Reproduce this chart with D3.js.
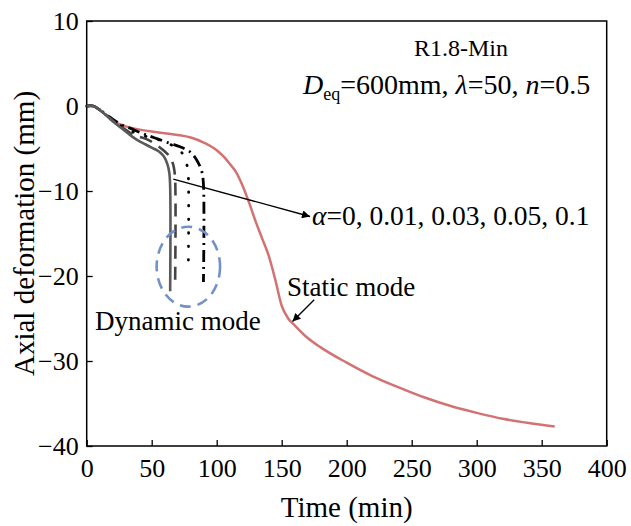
<!DOCTYPE html>
<html><head><meta charset="utf-8">
<script src="https://cdn.jsdelivr.net/npm/d3@7"></script>
<style>
html,body{margin:0;padding:0;background:#fff;}
text{font-family:"Liberation Serif","Times New Roman",serif;fill:#000;}
</style></head>
<body><svg id="c" width="631" height="526"></svg>
<script>
// ---- data ----
const xTicks = [0, 50, 100, 150, 200, 250, 300, 350, 400];
const yTicks = [10, 0, -10, -20, -30, -40];

const staticT = [0, 5, 10, 15, 20, 30, 40, 50, 60, 70, 80, 90, 100, 105, 110, 115, 120, 125, 130, 135, 140, 145, 150, 155, 160, 170, 180, 200, 220, 240, 260, 280, 300, 320, 340, 360];
const staticV = [0, 0, -0.5, -1.1, -1.7, -2.4, -2.75, -3.0, -3.2, -3.4, -3.7, -4.3, -5.2, -5.9, -6.8, -7.8, -9.4, -11.4, -13.6, -15.6, -17.6, -20.4, -23.5, -25.0, -25.8, -27.3, -28.4, -30.2, -31.8, -33.1, -34.3, -35.3, -36.1, -36.8, -37.3, -37.7];

const a0T = [0, 5, 10, 15, 20, 25, 30, 35, 40, 45, 50, 55, 58, 60, 62, 63.5, 64.2, 64.2];
const a0V = [0, 0, -0.45, -1.1, -1.8, -2.4, -3.0, -3.6, -4.1, -4.5, -4.9, -5.3, -5.7, -6.1, -6.8, -7.8, -9.5, -21.8];

const a1T = [0, 5, 10, 15, 20, 25, 30, 35, 40, 46, 52, 59, 63, 65.4, 67, 68, 68];
const a1V = [0, 0, -0.45, -1.05, -1.7, -2.3, -2.8, -3.3, -3.6, -3.9, -4.4, -5.2, -5.8, -6.4, -7.2, -8.5, -21.1];

const a3T = [0, 5, 10, 15, 20, 25, 30, 35, 40, 46, 56, 64, 71.8, 75.6, 77.5, 78.2, 78.2];
const a3V = [0, 0, -0.45, -1.0, -1.6, -2.2, -2.6, -3.0, -3.3, -3.6, -4.0, -4.5, -5.2, -6.3, -7.2, -8.3, -18.5];

const a5T = [0, 5, 10, 15, 20, 25, 30, 33.3, 40, 46, 55, 64, 71.8, 79.5, 84.6, 88.5, 89.8, 89.8];
const a5V = [0, 0, -0.45, -1.0, -1.55, -2.05, -2.45, -2.6, -3.05, -3.4, -3.9, -4.4, -4.8, -5.4, -6.35, -7.7, -9.2, -20.7];

// ---- layout ----
const svg = d3.select("#c");
const x = d3.scaleLinear().domain([0, 400]).range([86.7, 606.7]);
const y = d3.scaleLinear().domain([-40, 10]).range([446, 21]);
const FS_TICK = 26;

const defs = svg.append("defs");
defs.append("marker").attr("id","ah").attr("viewBox","0 0 10 10")
  .attr("refX",10).attr("refY",5).attr("markerWidth",12).attr("markerHeight",8)
  .attr("markerUnits","userSpaceOnUse").attr("orient","auto")
  .append("path").attr("d","M0,0 L10,5 L0,10 z").attr("fill","#000");

// frame
svg.append("rect").attr("x", x(0)).attr("y", y(10))
  .attr("width", x(400) - x(0)).attr("height", y(-40) - y(10))
  .attr("fill", "none").attr("stroke", "#000").attr("stroke-width", 1.5);

// axes (ticks inward)
const xAxis = svg.append("g").attr("transform", `translate(0,${y(-40)})`)
  .call(d3.axisBottom(x).tickValues(xTicks).tickSizeInner(-6).tickSizeOuter(0).tickPadding(13));
const yAxis = svg.append("g").attr("transform", `translate(${x(0)},0)`)
  .call(d3.axisLeft(y).tickValues(yTicks).tickSizeInner(-6).tickSizeOuter(0).tickPadding(8));
[xAxis, yAxis].forEach(g => {
  g.select(".domain").remove();
  g.selectAll(".tick line").attr("stroke", "#000").attr("stroke-width", 1.3);
  g.selectAll(".tick text").attr("font-size", FS_TICK).attr("fill", "#000")
    .attr("font-family", '"Liberation Serif","Times New Roman",serif');
});

// axis titles
svg.append("text").attr("x", (x(0) + x(400)) / 2).attr("y", 517)
  .attr("text-anchor", "middle").attr("font-size", 29).text("Time (min)");
svg.append("text").attr("transform", `translate(34,${(y(10) + y(-40)) / 2}) rotate(-90)`)
  .attr("text-anchor", "middle").attr("font-size", 29).text("Axial deformation (mm)");

// lines
const line = d3.line().x(d => x(d[0])).y(d => y(d[1])).curve(d3.curveMonotoneX);
function pts(T, V) { return T.map((t, i) => [t, V[i]]); }

const series = [
  { T: staticT, V: staticV, color: "#d27272", w: 2.5, dash: null, cap: "butt", mono: true },
  { T: a5T, V: a5V, color: "#000", w: 2.8, dash: "12,5,2,5", cap: "butt" },
  { T: a3T, V: a3V, color: "#000", w: 2.8, dash: "0.5,13", cap: "round" },
  { T: a1T, V: a1V, color: "#444", w: 2.6, dash: "13,8", cap: "butt" },
  { T: a0T, V: a0V, color: "#5a5a5a", w: 2.6, dash: null, cap: "butt" }
];
series.forEach(s => {
  svg.append("path").attr("d", (s.mono ? line : d3.line().x(d => x(d[0])).y(d => y(d[1])).curve(d3.curveCatmullRom.alpha(0.5)))(pts(s.T, s.V)))
    .attr("fill", "none").attr("stroke", s.color).attr("stroke-width", s.w)
    .attr("stroke-dasharray", s.dash).attr("stroke-linecap", s.cap).attr("stroke-linejoin", "round");
});

// ellipse (dynamic mode highlight)
svg.append("ellipse").attr("cx", x(78.2)).attr("cy", y(-18.9))
  .attr("rx", x(24.4) - x(0)).attr("ry", y(-4.7) - y(0))
  .attr("fill", "none").attr("stroke", "#7291c9").attr("stroke-width", 2.6)
  .attr("stroke-dasharray", "11,7");

// annotation arrows
svg.append("line").attr("x1", x(66.6)).attr("y1", y(-8.6)).attr("x2", x(171.8)).attr("y2", y(-13.0))
  .attr("stroke", "#000").attr("stroke-width", 1.3).attr("marker-end", "url(#ah)");
svg.append("line").attr("x1", x(175)).attr("y1", y(-22.8)).attr("x2", x(158.3)).attr("y2", y(-25.35))
  .attr("stroke", "#000").attr("stroke-width", 1.3).attr("marker-end", "url(#ah)");

// annotation texts
const t1 = svg.append("text").attr("x", x(173.3)).attr("y", y(-14.0)).attr("font-size", 27.5);
t1.append("tspan").attr("font-style", "italic").text("α");
t1.append("tspan").text("=0, 0.01, 0.03, 0.05, 0.1");

svg.append("text").attr("x", x(154)).attr("y", y(-22.35)).attr("font-size", 27).text("Static mode");
svg.append("text").attr("x", x(6.4)).attr("y", y(-26.35)).attr("font-size", 27).text("Dynamic mode");

svg.append("text").attr("x", x(287.9)).attr("y", y(5.88)).attr("text-anchor", "middle")
  .attr("font-size", 24).text("R1.8-Min");
const t2 = svg.append("text").attr("x", x(166.4)).attr("y", y(1.41)).attr("font-size", 28);
t2.append("tspan").attr("font-style", "italic").text("D");
t2.append("tspan").attr("font-size", 18).attr("dy", 6).text("eq");
t2.append("tspan").attr("dy", -6).text("=600mm, ");
t2.append("tspan").attr("font-style", "italic").text("λ");
t2.append("tspan").text("=50, ");
t2.append("tspan").attr("font-style", "italic").text("n");
t2.append("tspan").text("=0.5");
</script></body></html>
